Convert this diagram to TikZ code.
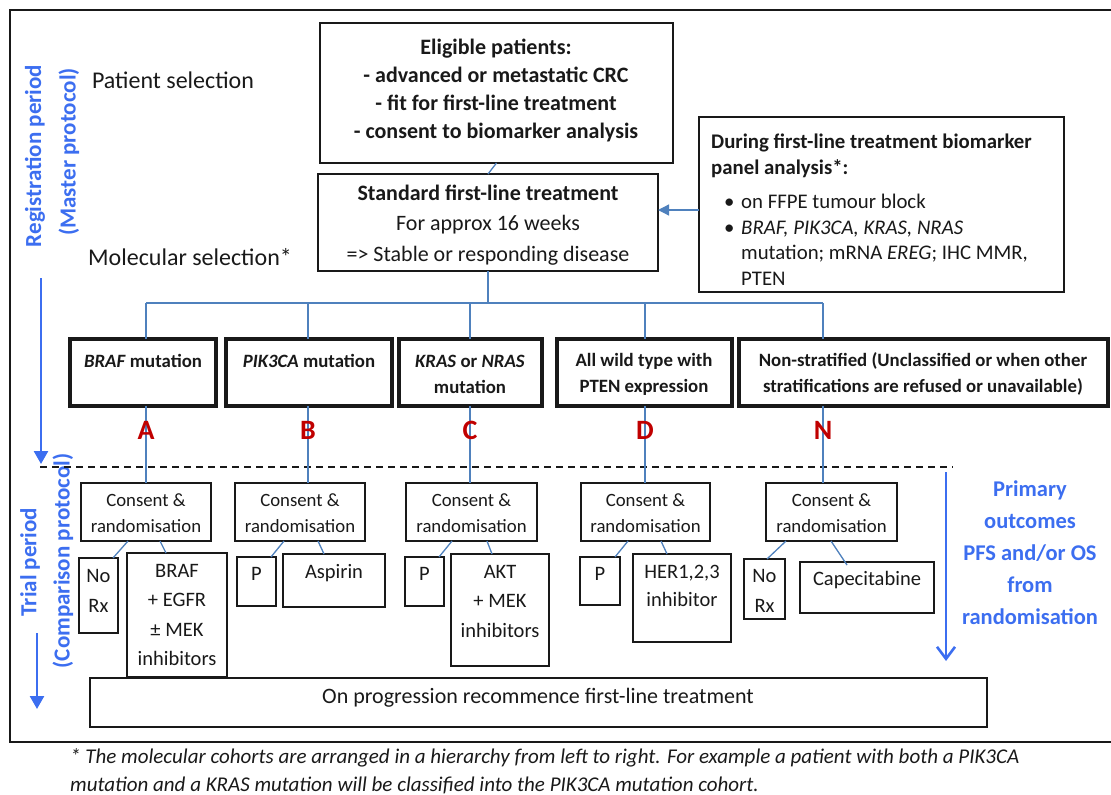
\documentclass[tikz,border=0pt]{standalone}
\usepackage{fontspec}
\setmainfont{Carlito}
\usetikzlibrary{arrows.meta,calc}
\definecolor{cblue}{RGB}{79,129,189}
\definecolor{tblue}{RGB}{60,110,240}
\definecolor{lred}{RGB}{192,0,0}
\definecolor{ink}{RGB}{25,25,25}
\newcommand{\fsz}[2]{\fontsize{#1}{#2}\selectfont}
\newcommand{\mkbox}[6]{\node[#6,minimum width={(#4-#2)*1pt},minimum height={(#5-#3)*1pt}] (#1) at ({(#2+#4)/2},{(#3+#5)/2}) {};}
\begin{document}
\begin{tikzpicture}[x=1pt,y=-1pt,
  bx/.style={draw=ink,line width=1.5pt,inner sep=0pt,outer sep=0pt},
  strat/.style={draw=ink,line width=3.6pt,inner sep=0pt,outer sep=0pt},
  botbox/.style={draw=ink,line width=2pt,inner sep=0pt,outer sep=0pt},
  conn/.style={draw=cblue,line width=1.3pt},
  tx/.style={inner sep=0pt,align=center,text=ink},
  lab/.style={tx,font=\fsz{24}{28}},
  big/.style={tx,font=\fsz{22}{28}\bfseries},
  std/.style={tx,font=\fsz{22}{30.5}},
  st/.style={tx,font=\fsz{18.8}{26}\bfseries},
  cons/.style={tx,font=\fsz{18.75}{26}},
  arm/.style={tx,font=\fsz{20.5}{29.5}},
  letter/.style={inner sep=0pt,text=lred,font=\fsz{28}{30}\bfseries},
  side/.style={inner sep=0pt,text=tblue,align=center,font=\fsz{23}{26}\bfseries},
  barrow/.style={draw=tblue,line width=2.6pt},
]
\useasboundingbox (0,0) rectangle (1111,795);
% outer frame
\node[draw=ink,line width=1.5pt,inner sep=0pt,minimum width=1110pt,minimum height=732pt] (frame) at (565,376) {};

% side labels
\node[lab] (psel) at (173,80) {Patient selection};
\node[lab] (msel) at (190,257) {Molecular selection*};
\node[side,rotate=90] (reg1) at (35,156) {Registration period};
\node[side,rotate=90] (reg2) at (69,152) {(Master protocol)};
\node[side,rotate=90] (tri1) at (30,562) {Trial period};
\node[side,rotate=90] (tri2) at (63,561) {(Comparison protocol)};
\coordinate (ra1) at (41,278); \coordinate (ra2) at (41,464);
\draw[barrow,-{Triangle[length=13pt,width=14pt]}] (ra1) -- (ra2);
\coordinate (ta1) at (37,633); \coordinate (ta2) at (37,709);
\draw[barrow,-{Triangle[length=13pt,width=14pt]}] (ta1) -- (ta2);
\coordinate (pa1) at (946,472); \coordinate (pa2) at (946,661);
\draw[barrow,-{Straight Barb[length=12pt,width=18pt,line width=2.6pt]}] (pa1) -- (pa2);
\node[side,font=\fsz{22.5}{32}\bfseries] (prim) at (1030,553) {Primary\\outcomes\\PFS and/or OS\\from\\randomisation};

% dashed divider
\coordinate (dl) at (40,467); \coordinate (dr) at (953,467);
\draw[ink,line width=1.5pt,dash pattern=on 7pt off 5pt] (dl) -- (dr);

% top boxes
\mkbox{eli}{320}{23}{673}{163}{bx}
\node[big] (eli-t) at (496,90) {Eligible patients:\\- advanced or metastatic CRC\\- fit for first-line treatment\\- consent to biomarker analysis};
\mkbox{stdb}{318}{174}{658}{271}{bx}
\node[std] (stdb-t) at (488,225) {\textbf{Standard first-line treatment}\\For approx 16 weeks\\=> Stable or responding disease};
\mkbox{dur}{699}{117}{1064}{292}{bx}
\node[tx,align=left,anchor=north west,font=\fsz{20.8}{25.5}] (dur-t) at (711,134) {\textbf{During first-line treatment biomarker}\\\textbf{panel analysis*:}\\[9pt]
\hspace*{13pt}\makebox[17pt][l]{\textbullet}on FFPE tumour block\\
\hspace*{13pt}\makebox[17pt][l]{\textbullet}\textit{BRAF, PIK3CA, KRAS, NRAS}\\
\hspace*{30pt}mutation; mRNA \textit{EREG}; IHC MMR,\\
\hspace*{30pt}PTEN};

\draw[conn] (eli.south) -- (stdb.north);
\draw[conn,-{Triangle[length=11pt,width=11pt]}] (dur.west |- 0,210) -- (stdb.east |- 0,210);

% strata
\mkbox{sA}{70}{339}{216}{406}{strat}
\mkbox{sB}{226}{339}{392}{406}{strat}
\mkbox{sC}{399}{339}{542}{406}{strat}
\mkbox{sD}{557}{339}{732}{406}{strat}
\mkbox{sN}{739}{339}{1108}{406}{strat}
\node[st] (sA-t) at (143,361) {\textit{BRAF} mutation};
\node[st] (sB-t) at (309,361) {\textit{PIK3CA} mutation};
\node[st] (sC-t) at (470,374) {\textit{KRAS} or \textit{NRAS}\\mutation};
\node[st] (sD-t) at (644,374) {All wild type with\\PTEN expression};
\node[st] (sN-t) at (923,374) {Non-stratified (Unclassified or when other\\stratifications are refused or unavailable)};

% bus
\coordinate (bus) at (488,303);
\coordinate (xA) at (146,0); \coordinate (xB) at (308,0); \coordinate (xC) at (470,0);
\coordinate (xD) at (645,0); \coordinate (xN) at (823,0);
\draw[conn] (stdb.south) -- (bus);
\draw[conn] (xA |- bus) -- (xN |- bus);
\foreach \s in {A,B,C,D,N} {
  \draw[conn] (x\s |- bus) -- (x\s |- s\s.north);
}

% consent boxes
\mkbox{cA}{81}{483}{211}{541}{bx}
\mkbox{cB}{235}{483}{365}{541}{bx}
\mkbox{cC}{406}{483}{537}{541}{bx}
\mkbox{cD}{581}{483}{710}{541}{bx}
\mkbox{cN}{766}{483}{897}{541}{bx}
\foreach \s in {A,B,C,D,N} {
  \draw[conn] (x\s |- s\s.south) -- (x\s |- c\s.north);
  \node[cons] (c\s-t) at ($(c\s.center)+(0,1)$) {Consent \&\\randomisation};
}
\node[letter] (lA) at (146,430) {A};
\node[letter] (lB) at (308,430) {B};
\node[letter] (lC) at (470,430) {C};
\node[letter] (lD) at (645,430) {D};
\node[letter] (lN) at (823,430) {N};

% arm boxes
\mkbox{A1}{79}{558}{118}{633}{bx}
\mkbox{A2}{127}{553}{227}{677}{bx}
\mkbox{B1}{237}{557}{276}{606}{bx}
\mkbox{B2}{283}{554}{385}{607}{bx}
\mkbox{C1}{405}{557}{444}{606}{bx}
\mkbox{C2}{451}{554}{549}{666}{bx}
\mkbox{D1}{580}{557}{620}{605}{bx}
\mkbox{D2}{633}{554}{731}{642}{bx}
\mkbox{N1}{744}{559}{785}{619}{bx}
\mkbox{N2}{800}{562}{934}{613}{bx}
\node[arm] (A1-t) at (98.5,591) {No\\Rx};
\node[arm] (A2-t) at (177,615) {BRAF\\+ EGFR\\± MEK\\inhibitors};
\node[arm] (B1-t) at (256.5,574) {P};
\node[arm] (B2-t) at (334,573) {Aspirin};
\node[arm] (C1-t) at (424.5,574) {P};
\node[arm] (C2-t) at (500,601) {AKT\\+ MEK\\inhibitors};
\node[arm] (D1-t) at (600,574) {P};
\node[arm,font=\fsz{20.5}{28}] (D2-t) at (682,586) {HER1,2,3\\inhibitor};
\node[arm] (N1-t) at (764.5,591) {No\\Rx};
\node[arm] (N2-t) at (867,580) {Capecitabine};

\draw[conn] ([xshift=-18pt]cA.south) -- ([xshift=14.5pt]A1.north);
\draw[conn] ([xshift=14pt]cA.south) -- ([xshift=-11pt]A2.north);
\draw[conn] ([xshift=-16pt]cB.south) -- ([xshift=14.5pt]B1.north);
\draw[conn] ([xshift=18pt]cB.south) -- ([xshift=-10pt]B2.north);
\draw[conn] ([xshift=-19.5pt]cC.south) -- ([xshift=14.5pt]C1.north);
\draw[conn] ([xshift=15.5pt]cC.south) -- ([xshift=-8pt]C2.north);
\draw[conn] ([xshift=-17.5pt]cD.south) -- ([xshift=15pt]D1.north);
\draw[conn] ([xshift=15.5pt]cD.south) -- ([xshift=-15pt]D2.north);
\draw[conn] ([xshift=-45.5pt]cN.south) -- ([xshift=2.5pt]N1.north);
\draw[conn] ([xshift=-0.5pt]cN.south) -- ([xshift=-20pt,yshift=-3pt]N2.north);

% bottom box
\mkbox{bot}{90}{678}{987}{727}{botbox}
\node[tx,font=\fsz{22}{26}] (bot-t) at (538,698) {On progression recommence first-line treatment};

% footnote
\node[tx,anchor=west,align=left,font=\fsz{21}{28}\itshape] (foot) at (70,771) {* The molecular cohorts are arranged in a hierarchy from left to right. For example a patient with both a PIK3CA\\mutation and a KRAS mutation will be classified into the PIK3CA mutation cohort.};
\end{tikzpicture}
\end{document}
